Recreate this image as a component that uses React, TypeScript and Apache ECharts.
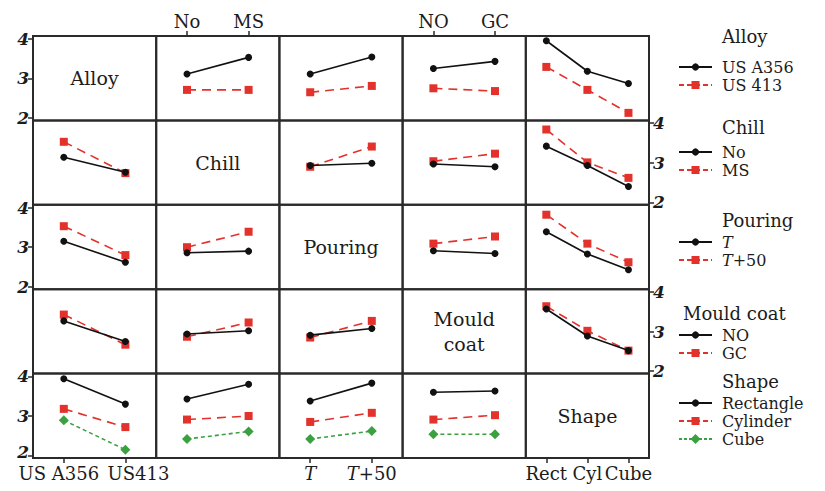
import React, { useEffect, useRef } from "react";
import * as echarts from "echarts";

// ---- factors, levels, tick labels ----
const factorNames = ["Alloy", "Chill", "Pouring", "Mould\ncoat", "Shape"];
const legendTitles = ["Alloy", "Chill", "Pouring", "Mould coat", "Shape"];
const alloyTicks = ["US A356", "US413"];
const chillTicks = ["No", "MS"];
const pouringTicks = ["T", "T+50"];
const mouldTicks = ["NO", "GC"];
const shapeTicks = ["Rect", "Cyl", "Cube"];
const alloyLegend = ["US A356", "US 413"];
const chillLegend = ["No", "MS"];
const pouringLegend = ["T", "T+50"];
const mouldLegend = ["NO", "GC"];
const shapeLegend = ["Rectangle", "Cylinder", "Cube"];
const yTicks = [2, 3, 4];

// ---- panel values: rows = trace factor, columns = x factor ----
const alloyByChill = [[3.11, 3.53], [2.71, 2.71]];
const alloyByPouring = [[3.11, 3.54], [2.65, 2.81]];
const alloyByMould = [[3.25, 3.43], [2.75, 2.68]];
const alloyByShape = [[3.95, 3.18, 2.87], [3.29, 2.71, 2.13]];

const chillByAlloy = [[3.14, 2.76], [3.53, 2.74]];
const chillByPouring = [[2.93, 2.99], [2.9, 3.41]];
const chillByMould = [[2.97, 2.9], [3.04, 3.23]];
const chillByShape = [[3.42, 2.93, 2.4], [3.84, 3.01, 2.62]];

const pouringByAlloy = [[3.15, 2.62], [3.53, 2.8]];
const pouringByChill = [[2.86, 2.9], [3.0, 3.39]];
const pouringByMould = [[2.91, 2.84], [3.09, 3.27]];
const pouringByShape = [[3.39, 2.83, 2.43], [3.82, 3.09, 2.62]];

const mouldByAlloy = [[3.27, 2.75], [3.43, 2.67]];
const mouldByChill = [[2.94, 3.02], [2.87, 3.23]];
const mouldByPouring = [[2.91, 3.08], [2.85, 3.27]];
const mouldByShape = [[3.57, 2.89, 2.52], [3.64, 3.02, 2.52]];

const shapeByAlloy = [[3.94, 3.3], [3.18, 2.72], [2.89, 2.15]];
const shapeByChill = [[3.43, 3.8], [2.91, 3.0], [2.42, 2.61]];
const shapeByPouring = [[3.38, 3.83], [2.85, 3.08], [2.42, 2.62]];
const shapeByMould = [[3.6, 3.63], [2.91, 3.02], [2.54, 2.54]];

const panels: (number[][] | null)[][] = [
  [null, alloyByChill, alloyByPouring, alloyByMould, alloyByShape],
  [chillByAlloy, null, chillByPouring, chillByMould, chillByShape],
  [pouringByAlloy, pouringByChill, null, pouringByMould, pouringByShape],
  [mouldByAlloy, mouldByChill, mouldByPouring, null, mouldByShape],
  [shapeByAlloy, shapeByChill, shapeByPouring, shapeByMould, null],
];
const ticksByFactor = [alloyTicks, chillTicks, pouringTicks, mouldTicks, shapeTicks];
const legendByFactor = [alloyLegend, chillLegend, pouringLegend, mouldLegend, shapeLegend];

// ---- layout & styles ----
const FONT = "DejaVu Serif";
const TXT = "#1c1c1c";
const L0 = 33;
const T0 = 36;
const W = 123.2;
const H = 84.4;
const styles = [
  { color: "#111111", type: "solid" as any, symbol: "circle", size: 7 },
  { color: "#e3312b", type: [9, 6] as any, symbol: "rect", size: 8 },
  { color: "#3aa040", type: [4, 3] as any, symbol: "diamond", size: 10 },
];
const legendLayout = [
  { tx: 722, ty: 36, items: [67, 85] },
  { tx: 722, ty: 127, items: [152, 170] },
  { tx: 722, ty: 220, items: [242, 260] },
  { tx: 683, ty: 313, items: [335, 353] },
  { tx: 722, ty: 381, items: [403, 421, 439] },
];

function xLabelFormatter(c: number) {
  return (v: string) => {
    if (c === 2) return v === "T" ? "{i|T}" : "{i|T}{n|+50}";
    if (c === 0) return v === "US A356" ? "{a|US A356}" : "{b|US413}";
    return "{n|" + v + "}";
  };
}

const richBase = { fontFamily: FONT, fontSize: 18, color: TXT };
const yRich = { fontFamily: FONT, fontSize: 17, fontStyle: "italic", fontWeight: "bold", color: TXT };

export default function App() {
  const ref = useRef<HTMLDivElement>(null);
  useEffect(() => {
    if (!ref.current) return;
    const chart = echarts.init(ref.current, null, { renderer: "svg" });
    const grid: any[] = [];
    const xAxis: any[] = [];
    const yAxis: any[] = [];
    const series: any[] = [];
    const graphic: any[] = [];
    for (let r = 0; r < 5; r++) {
      for (let c = 0; c < 5; c++) {
        const idx = r * 5 + c;
        grid.push({
          left: L0 + c * W,
          top: T0 + r * H,
          width: W,
          height: H,
          show: true,
          borderColor: "#2a2a2a",
          borderWidth: 2,
          backgroundColor: "transparent",
        });
        const showX = (r === 0 && (c === 1 || c === 3)) || (r === 4 && (c === 0 || c === 2 || c === 4));
        xAxis.push({
          gridIndex: idx,
          type: "category",
          data: ticksByFactor[c],
          boundaryGap: true,
          show: showX,
          position: r === 0 ? "top" : "bottom",
          axisLine: { show: false },
          splitLine: { show: false },
          axisTick: { show: true, interval: 0, alignWithLabel: true, length: 5, lineStyle: { color: "#2a2a2a", width: 1.5 } },
          axisLabel: {
            interval: 0,
            hideOverlap: false,
            margin: 6,
            formatter: xLabelFormatter(c),
            rich: {
              n: { ...richBase },
              i: { ...richBase, fontStyle: "italic" },
              a: { ...richBase, padding: [0, 10, 0, 0] },
              b: { ...richBase, padding: [0, 0, 0, 26] },
            },
          },
        });
        const showY = (c === 0 && r % 2 === 0) || (c === 4 && r % 2 === 1);
        const lastRow = r === 4;
        yAxis.push({
          gridIndex: idx,
          type: "value",
          min: 1.94,
          max: 4.07,
          show: showY,
          position: c === 0 ? "left" : "right",
          axisLine: { show: false },
          splitLine: { show: false },
          axisTick: { show: true, length: 5, customValues: yTicks, lineStyle: { color: "#2a2a2a", width: 1.5 } },
          axisLabel: {
            customValues: yTicks,
            margin: 4,
            formatter: (v: number) => (lastRow && v === 2 ? "{u|2}" : "{y|" + v + "}"),
            rich: {
              y: { ...yRich },
              u: { ...yRich, padding: [0, 0, 8, 0] },
            },
          },
        });
        const data = panels[r][c];
        if (data) {
          data.forEach((vals, k) => {
            const s = styles[k];
            series.push({
              type: "line",
              name: legendByFactor[r][k],
              xAxisIndex: idx,
              yAxisIndex: idx,
              data: vals,
              symbol: s.symbol,
              symbolSize: s.size,
              showSymbol: true,
              lineStyle: { color: s.color, width: 1.6, type: s.type },
              itemStyle: { color: s.color },
              z: 3 - k,
            });
          });
        } else {
          graphic.push({
            type: "text",
            x: L0 + c * W + W / 2,
            y: T0 + r * H + H / 2,
            style: {
              text: factorNames[r],
              fontFamily: FONT,
              fontSize: 19,
              lineHeight: 25,
              fill: TXT,
              align: "center",
              verticalAlign: "middle",
            },
          });
        }
      }
    }
    // legends
    legendLayout.forEach((lg, f) => {
      graphic.push({
        type: "text",
        x: lg.tx,
        y: lg.ty,
        style: { text: legendTitles[f], fontFamily: FONT, fontSize: 18, fill: TXT, align: "left", verticalAlign: "middle" },
      });
      lg.items.forEach((y, k) => {
        const s = styles[k];
        const x1 = 679;
        const x2 = 712;
        const cx = (x1 + x2) / 2;
        graphic.push({
          type: "line",
          shape: { x1, y1: y, x2, y2: y },
          style: { stroke: s.color, lineWidth: 1.8, lineDash: k === 0 ? null : k === 1 ? [5, 3] : [3, 2] },
        });
        if (k === 0) {
          graphic.push({ type: "circle", shape: { cx, cy: y, r: 3.6 }, style: { fill: s.color } });
        } else if (k === 1) {
          graphic.push({ type: "rect", shape: { x: cx - 4, y: y - 4, width: 8, height: 8 }, style: { fill: s.color } });
        } else {
          graphic.push({
            type: "polygon",
            shape: { points: [[cx, y - 5], [cx + 5, y], [cx, y + 5], [cx - 5, y]] },
            style: { fill: s.color },
          });
        }
        const label = legendByFactor[f][k];
        const isPour = f === 2;
        graphic.push({
          type: "text",
          x: 722,
          y,
          style: {
            text: isPour ? (label === "T" ? "{i|T}" : "{i|T}{n|+50}") : label,
            rich: isPour
              ? {
                  i: { fontFamily: FONT, fontSize: 16, fontStyle: "italic", fill: TXT, lineHeight: 18 },
                  n: { fontFamily: FONT, fontSize: 16, fill: TXT, lineHeight: 18 },
                }
              : undefined,
            fontFamily: FONT,
            fontSize: 16,
            lineHeight: 18,
            fill: TXT,
            align: "left",
            verticalAlign: "middle",
          },
        });
      });
    });
    chart.setOption({
      animation: false,
      backgroundColor: "#ffffff",
      grid,
      xAxis,
      yAxis,
      series,
      graphic,
    });
    return () => chart.dispose();
  }, []);
  return (
    <div
      ref={ref}
      style={{ position: "fixed", left: 0, top: 0, width: 825, height: 491 }}
    />
  );
}
